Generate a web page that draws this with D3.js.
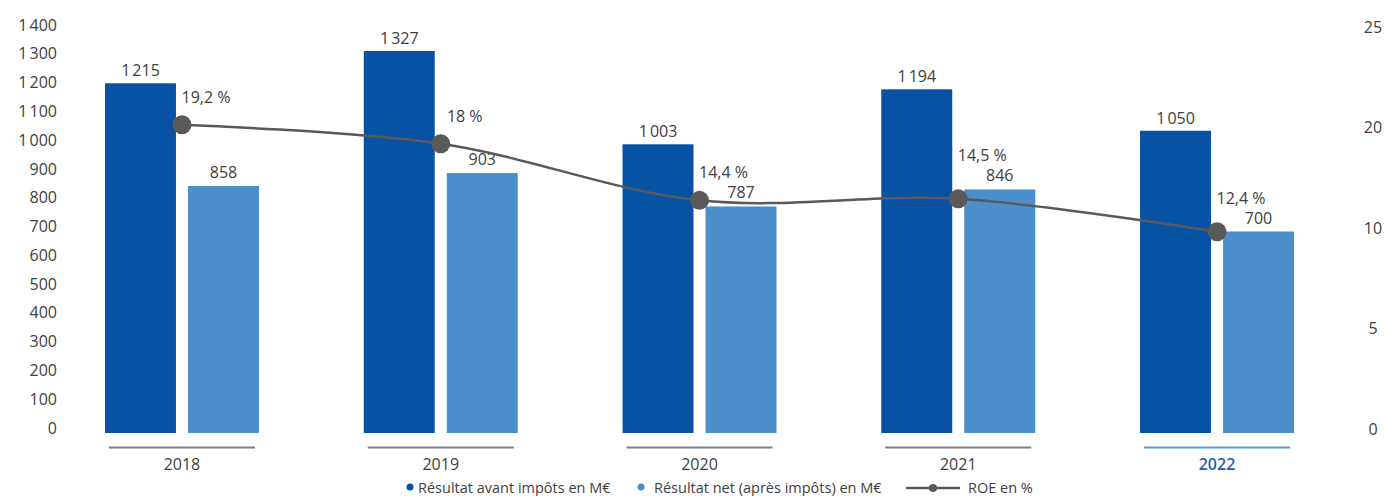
<!DOCTYPE html>
<html>
<head>
    <meta charset="utf-8">
    <title>Résultats et ROE</title>
    <script src="https://d3js.org/d3.v7.min.js"></script>
    <style>
        body { margin: 0; background: #fff; }
        text { font-family: "Open Sans", "Noto Sans", sans-serif; fill: #404040; }
    </style>
</head>
<body>
    <div id="chart"></div>

    <script>
        // Data
        const years = ["2018", "2019", "2020", "2021", "2022"];
        const beforeTax = [1215, 1327, 1003, 1194, 1050];
        const netResult = [858, 903, 787, 846, 700];
        const roe = [19.2, 18, 14.4, 14.5, 12.4];
        const leftTicks = [0, 100, 200, 300, 400, 500, 600, 700, 800, 900, 1000, 1100, 1200, 1300, 1400];
        const rightTickLabels = ["25", "20", "10", "5", "0"];
        const legendLabels = ["Résultat avant impôts en M€", "Résultat net (après impôts) en M€", "ROE en  %"];

        const darkBlue = "#0852a3", lightBlue = "#4a8fcc", grey = "#595959";

        const width = 1385, height = 496;

        const svg = d3.select("#chart")
            .append("svg")
            .attr("width", width)
            .attr("height", height);

        const locale = d3.formatLocale({ decimal: ",", thousands: "\u202f", grouping: [3], currency: ["", "€"] });
        const fmt = locale.format(",d");
        const pct = v => locale.format(",")(v) + " %";

        // Scales
        const x0 = d3.scaleBand()
            .domain(years)
            .range([52.6, 1346.4])
            .paddingInner(0.405)
            .paddingOuter(0.2025);

        const x1 = d3.scaleBand()
            .domain(["before", "net"])
            .range([0, x0.bandwidth()])
            .paddingInner(0.145);

        const yLeft = d3.scaleLinear().domain([0, 1400]).range([433, 30]);
        const yRight = d3.scaleLinear().domain([0, 25]).range([427, 33.5]);
        const yRightLabels = d3.scalePoint().domain(rightTickLabels).range([27, 429]);

        const cx = y => x0(y) + x0.bandwidth() / 2;

        // Left axis
        const leftAxis = svg.append("g")
            .attr("transform", "translate(57,-5)")
            .call(d3.axisLeft(yLeft).tickValues(leftTicks).tickSize(0).tickPadding(0).tickFormat(fmt));
        leftAxis.select(".domain").remove();
        leftAxis.selectAll("text").style("font-size", "16px").attr("fill", "#404040");

        // Right axis
        const rightAxis = svg.append("g")
            .attr("transform", "translate(1373,0)")
            .call(d3.axisRight(yRightLabels).tickSize(0).tickPadding(0));
        rightAxis.select(".domain").remove();
        rightAxis.selectAll("text").style("font-size", "16px").attr("fill", "#404040").attr("text-anchor", "middle");

        // Bars
        const groups = svg.selectAll(".year")
            .data(years)
            .enter().append("g")
            .attr("transform", d => `translate(${x0(d)},0)`);

        groups.append("rect")
            .attr("x", x1("before"))
            .attr("width", x1.bandwidth())
            .attr("y", (d, i) => yLeft(beforeTax[i]))
            .attr("height", (d, i) => yLeft(0) - yLeft(beforeTax[i]))
            .attr("fill", darkBlue);

        groups.append("rect")
            .attr("x", x1("net"))
            .attr("width", x1.bandwidth())
            .attr("y", (d, i) => yLeft(netResult[i]))
            .attr("height", (d, i) => yLeft(0) - yLeft(netResult[i]))
            .attr("fill", lightBlue);

        groups.append("text")
            .attr("x", x1("before") + x1.bandwidth() / 2)
            .attr("y", (d, i) => yLeft(beforeTax[i]) - 7)
            .attr("text-anchor", "middle")
            .style("font-size", "16px")
            .text((d, i) => fmt(beforeTax[i]));

        groups.append("text")
            .attr("x", x1("net") + x1.bandwidth() / 2)
            .attr("y", (d, i) => yLeft(netResult[i]) - 8)
            .attr("text-anchor", "middle")
            .style("font-size", "16px")
            .text((d, i) => fmt(netResult[i]));

        // Category underline and year labels
        groups.append("line")
            .attr("x1", x0.bandwidth() / 2 - 73)
            .attr("x2", x0.bandwidth() / 2 + 73)
            .attr("y1", 447.5).attr("y2", 447.5)
            .attr("stroke", d => d === "2022" ? "#5b9bd5" : "#808080")
            .attr("stroke-width", 2);

        groups.append("text")
            .attr("x", x0.bandwidth() / 2)
            .attr("y", 470)
            .attr("text-anchor", "middle")
            .style("font-size", "16px")
            .style("font-weight", d => d === "2022" ? "600" : "400")
            .style("fill", d => d === "2022" ? "#1f5fae" : null)
            .text(d => d);

        // ROE line
        const line = d3.line()
            .x((d, i) => cx(years[i]))
            .y(d => yRight(d))
            .curve(d3.curveCatmullRom.alpha(0.5));

        svg.append("path")
            .datum(roe)
            .attr("fill", "none")
            .attr("stroke", grey)
            .attr("stroke-width", 2.5)
            .attr("d", line);

        svg.selectAll(".roe-dot")
            .data(roe)
            .enter().append("circle")
            .attr("cx", (d, i) => cx(years[i]))
            .attr("cy", d => yRight(d))
            .attr("r", 9.5)
            .attr("fill", grey);

        // ROE labels sit above the point, and above the net-result label when they would collide
        svg.selectAll(".roe-label")
            .data(roe)
            .enter().append("text")
            .attr("x", (d, i) => cx(years[i]) + 24)
            .attr("y", (d, i) => Math.min(yRight(d) - 22, yLeft(netResult[i]) - 8 - 20))
            .attr("text-anchor", "middle")
            .style("font-size", "16px")
            .text(d => pct(d));

        // Legend
        const legend = svg.append("g").style("font-size", "14.5px");
        legend.append("circle").attr("cx", 410).attr("cy", 487).attr("r", 3.5).attr("fill", darkBlue);
        legend.append("circle").attr("cx", 641).attr("cy", 487).attr("r", 3.5).attr("fill", lightBlue);
        legend.append("line").attr("x1", 906).attr("x2", 960).attr("y1", 488).attr("y2", 488)
            .attr("stroke", grey).attr("stroke-width", 2.5);
        legend.append("circle").attr("cx", 933).attr("cy", 488).attr("r", 4).attr("fill", grey);
        legend.selectAll("text.lg")
            .data(legendLabels)
            .enter().append("text")
            .attr("x", (d, i) => [418, 654, 968][i])
            .attr("y", 493)
            .text(d => d);
    </script>
</body>
</html>
